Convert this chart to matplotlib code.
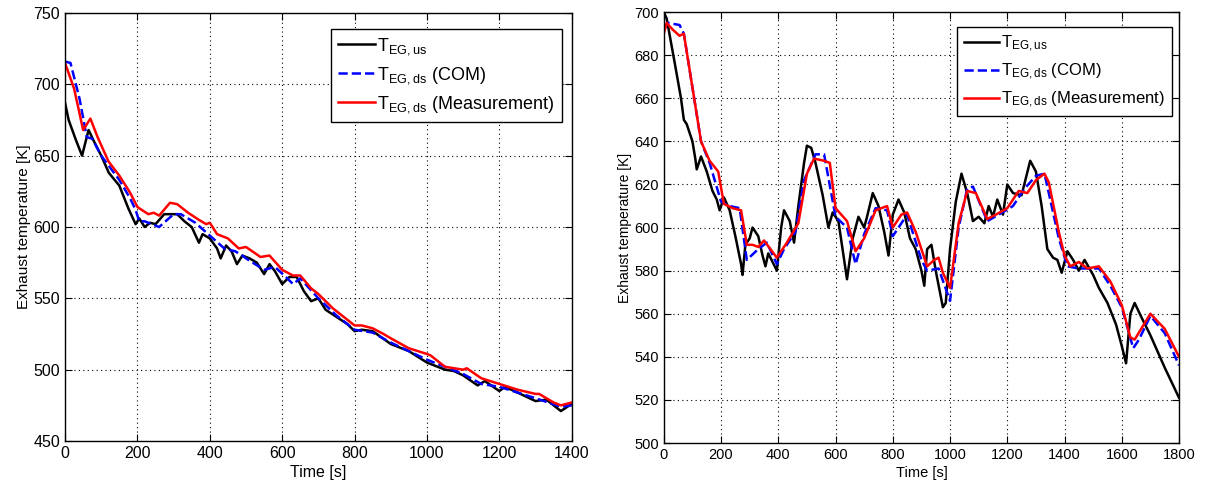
import numpy as np
import matplotlib
matplotlib.use("Agg")
import matplotlib.pyplot as plt

plt.rcParams["font.family"] = "Liberation Sans"
plt.rcParams["mathtext.fontset"] = "custom"
plt.rcParams["mathtext.rm"] = "Liberation Sans"

# ---- left panel data ----
t_us_a = [0, 10, 30, 47, 65, 80, 100, 121, 150, 175, 195, 205, 220, 235, 250, 274, 310, 330, 350, 370, 380,
          400, 420, 430, 445, 460, 475, 490, 510, 530, 550, 565, 580, 600, 620, 640, 660, 680, 700, 720, 750,
          780, 800, 820, 850, 900, 950, 1000, 1050, 1075, 1100, 1140, 1160, 1200, 1215, 1250, 1300, 1330, 1370, 1400]
v_us_a = [687, 675, 661, 650, 668, 660, 650, 638, 629, 613, 602, 606, 600, 603, 602, 609, 609, 604, 600, 589, 595,
          592, 585, 578, 587, 583, 574, 580, 578, 575, 567, 574, 569, 560, 565, 565, 555, 548, 550, 542, 537,
          532, 527, 528, 527, 518, 513, 505, 500, 499, 496, 489, 492, 485, 488, 484, 478, 479, 471, 476]

t_com_a = [0, 15, 40, 60, 75, 100, 150, 180, 195, 205, 220, 240, 260, 300, 320, 360, 400, 440, 470, 490, 500,
           550, 580, 610, 630, 650, 700, 750, 800, 850, 900, 1000, 1100, 1150, 1200, 1300, 1370, 1400]
v_com_a = [716, 715, 690, 663, 662, 650, 633, 620, 612, 604, 604, 602, 600, 609, 609, 603, 594, 585, 583, 580, 578,
           570, 572, 565, 560, 564, 550, 538, 528, 526, 519, 507, 497, 490, 488, 480, 474, 475]

t_meas_a = [0, 25, 50, 70, 90, 120, 150, 180, 200, 230, 245, 260, 290, 310, 340, 370, 390, 400, 420, 450, 480,
            500, 540, 565, 600, 630, 650, 680, 700, 740, 770, 800, 820, 850, 880, 900, 950, 1000, 1010, 1050,
            1100, 1110, 1150, 1200, 1250, 1300, 1310, 1350, 1370, 1400]
v_meas_a = [715, 697, 668, 676, 663, 646, 636, 624, 614, 609, 610, 608, 617, 616, 610, 605, 602, 603, 595, 592, 585,
            586, 579, 580, 570, 566, 566, 557, 553, 543, 537, 531, 531, 529, 525, 522, 515, 511, 510, 502,
            500, 501, 494, 490, 486, 483, 483, 477, 475, 477]

# ---- right panel data ----
t_us_b = [0, 10, 40, 60, 70, 80, 100, 110, 115, 130, 150, 170, 185, 195, 210, 230, 250, 270, 275, 285, 300, 310,
          330, 345, 355, 365, 380, 395, 410, 420, 440, 455, 470, 490, 500, 515, 530, 555, 575, 590, 610, 630,
          640, 660, 680, 700, 710, 730, 750, 770, 785, 800, 820, 840, 860, 880, 900, 910, 920, 935, 950, 975,
          985, 1000, 1020, 1040, 1060, 1080, 1100, 1120, 1135, 1150, 1165, 1185, 1200, 1220, 1250, 1280, 1300,
          1320, 1340, 1360, 1375, 1390, 1410, 1430, 1450, 1470, 1500, 1520, 1550, 1580, 1600, 1615, 1630, 1645,
          1670, 1700, 1750, 1800]
v_us_b = [700, 697, 675, 660, 650, 648, 640, 632, 627, 633, 626, 617, 613, 608, 614, 608, 596, 583, 578, 592, 595, 600,
          596, 587, 582, 588, 584, 580, 600, 608, 603, 593, 610, 630, 638, 637, 630, 615, 600, 607, 603, 585,
          576, 595, 605, 600, 605, 616, 610, 598, 587, 606, 613, 607, 595, 590, 580, 573, 590, 592, 580, 563,
          565, 590, 612, 625, 616, 603, 605, 602, 610, 605, 613, 606, 620, 616, 615, 631, 626,
          610, 590, 586, 585, 579, 589, 585, 580, 585, 578, 572, 565, 555, 545, 537, 560, 565,
          558, 550, 535, 521]

t_com_b = [0, 15, 55, 70, 100, 130, 160, 200, 230, 265, 290, 330, 360, 395, 420, 460, 490, 530, 560, 600, 640,
           670, 700, 740, 780, 800, 850, 900, 920, 960, 1000, 1030, 1060, 1080, 1130, 1170, 1220, 1260, 1300,
           1330, 1380, 1410, 1450, 1520, 1560, 1600, 1640, 1660, 1700, 1750, 1800]
v_com_b = [692, 695, 694, 690, 665, 640, 630, 612, 610, 609, 585, 590, 593, 583, 590, 598, 622, 634, 634, 605, 600,
           583, 597, 609, 608, 596, 606, 585, 580, 581, 566, 600, 618, 619, 603, 606, 610, 618, 624,
           625, 595, 582, 581, 581, 573, 563, 544, 548, 559, 551, 536]

t_meas_b = [0, 10, 30, 55, 70, 100, 130, 160, 190, 210, 240, 270, 290, 310, 330, 350, 395, 430, 470, 500, 525,
            560, 580, 600, 640, 670, 700, 740, 780, 800, 830, 850, 880, 920, 945, 960, 975, 1000, 1030, 1060,
            1090, 1130, 1160, 1200, 1240, 1270, 1300, 1330, 1345, 1380, 1400, 1420, 1450, 1480, 1520, 1560,
            1600, 1630, 1645, 1700, 1750, 1800]
v_meas_b = [690, 695, 692, 689, 690, 665, 640, 631, 626, 611, 609, 608, 592, 592, 591, 594, 586, 593, 602, 625, 632,
            631, 630, 609, 603, 589, 595, 608, 610, 600, 606, 607, 598, 582, 585, 586, 579, 572, 602, 617,
            616, 604, 606, 609, 617, 616, 622, 625, 621, 598, 587, 582, 584, 581, 582, 575,
            564, 549, 548, 560, 553, 540]

labels = [r"$\mathregular{T_{EG,us}}$",
          r"$\mathregular{T_{EG,ds}}$ (COM)",
          r"$\mathregular{T_{EG,ds}}$ (Measurement)"]

fig = plt.figure(figsize=(12.18, 4.88), dpi=100)
ax1 = fig.add_axes([0.0534, 0.0963, 0.416, 0.877])
ax2 = fig.add_axes([0.545, 0.0922, 0.423, 0.883])


def style(ax, xmax, ylim, yticks, fs):
    ax.set_xlim(0, xmax)
    ax.set_ylim(*ylim)
    ax.set_yticks(yticks)
    ax.grid(True, linestyle=(0, (1, 3)), color="black", linewidth=0.8)
    ax.tick_params(direction="in", top=True, right=True, labelsize=fs, length=5)
    for s in ax.spines.values():
        s.set_linewidth(1.0)
    ax.set_xlabel("Time [s]", fontsize=fs, labelpad=3)
    ax.set_ylabel("Exhaust temperature [K]", fontsize=fs - 0.5, labelpad=2)


ax1.plot(t_us_a, v_us_a, "-", color="black", lw=1.8, label=labels[0])
ax1.plot(t_com_a, v_com_a, "--", color="blue", lw=1.8, label=labels[1])
ax1.plot(t_meas_a, v_meas_a, "-", color="red", lw=1.8, label=labels[2])
style(ax1, 1400, (450, 750), np.arange(450, 751, 50), 11.5)
ax1.set_xticks(np.arange(0, 1401, 200))
leg = ax1.legend(loc="upper right", bbox_to_anchor=(0.980, 0.963), borderaxespad=0, fontsize=13,
                 fancybox=False, edgecolor="black", framealpha=1, handlelength=2.0, handletextpad=0.15,
                 borderpad=0.4, labelspacing=0.45)
leg.get_frame().set_linewidth(1.0)

ax2.plot(t_us_b, v_us_b, "-", color="black", lw=1.8, label=labels[0])
ax2.plot(t_com_b, v_com_b, "--", color="blue", lw=1.8, label=labels[1])
ax2.plot(t_meas_b, v_meas_b, "-", color="red", lw=1.8, label=labels[2])
style(ax2, 1800, (500, 700), np.arange(500, 701, 20), 10.5)
ax2.set_xticks(np.arange(0, 1801, 200))
leg = ax2.legend(loc="upper right", bbox_to_anchor=(0.986, 0.965), borderaxespad=0, fontsize=12,
                 fancybox=False, edgecolor="black", framealpha=1, handlelength=2.1, handletextpad=0.15,
                 borderpad=0.4, labelspacing=0.45)
leg.get_frame().set_linewidth(1.0)

fig.savefig("out.png", dpi=100)
